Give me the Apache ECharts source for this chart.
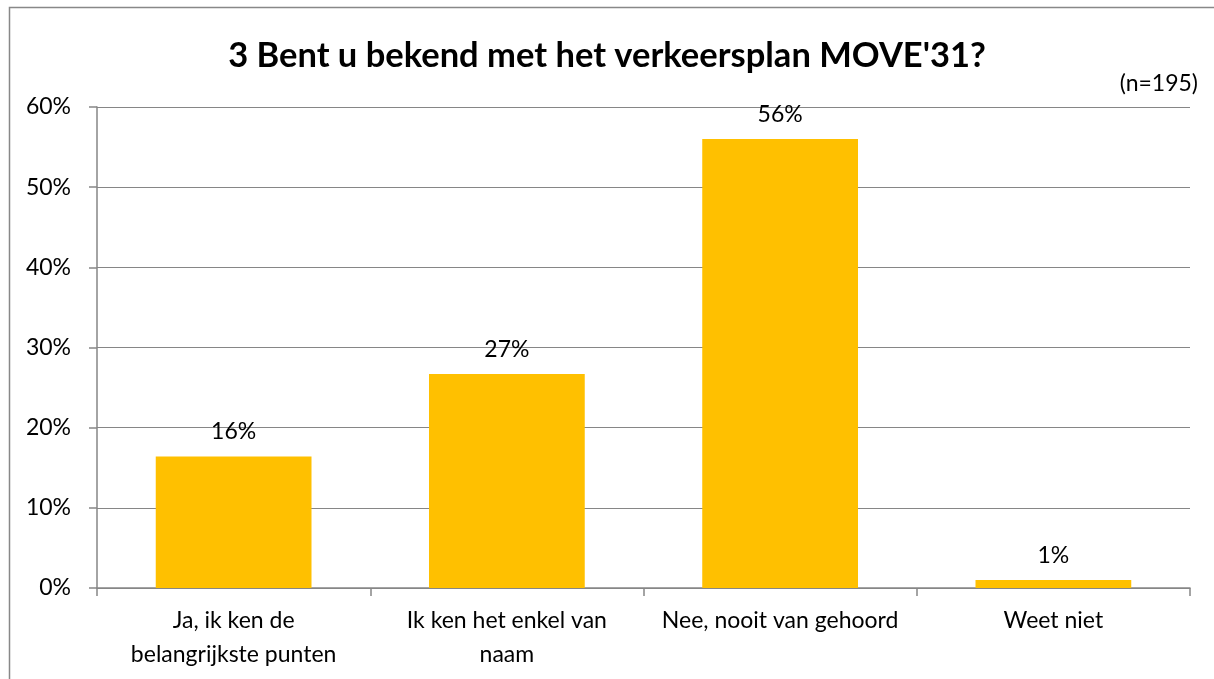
<!DOCTYPE html>
<html>
<head>
    <meta charset="utf-8">
    <title>MOVE'31</title>
    <script src="https://cdn.jsdelivr.net/npm/echarts@6/dist/echarts.min.js"></script>
    <style>
        html, body { margin: 0; padding: 0; background: #fff; }
    </style>
</head>
<body>
<div id="main" style="width: 1214px;height:679px;"></div>

<script>
    // gegevens
    var categories = ['Ja, ik ken de\nbelangrijkste punten', 'Ik ken het enkel van\nnaam', 'Nee, nooit van gehoord', 'Weet niet'];
    var values     = [16.4, 26.7, 56.0, 1.0];
    var yTicks     = [0, 10, 20, 30, 40, 50, 60];

    var fontName = 'Lato, "Open Sans", sans-serif';
    var axisGray = '#868686';

    var chart = echarts.init(document.getElementById('main'));
    var option = {
        backgroundColor: '#fff',
        animation: false,
        title: {
            text: "3 Bent u bekend met het verkeersplan MOVE'31?",
            left: 'center',
            top: 33,
            textStyle: {
                color: '#000',
                fontFamily: fontName,
                fontWeight: 'bold',
                fontSize: 34.5
            }
        },
        graphic: [
            {
                type: 'rect',
                shape: { x: 9.5, y: 7.5, width: 1220, height: 700 },
                style: { fill: null, stroke: '#888', lineWidth: 1.5 },
                silent: true
            },
            {
                type: 'text',
                right: 16,
                top: 72,
                style: { text: '(n=195)', fill: '#000', font: '23px ' + fontName }
            }
        ],
        grid: {
            left: 97,
            right: 24,
            top: 107,
            bottom: 91
        },
        xAxis: {
            type: 'category',
            data: categories,
            axisLine: { lineStyle: { color: axisGray, width: 1.5 } },
            axisTick: { show: true, length: 8, lineStyle: { color: axisGray, width: 1.5 } },
            axisLabel: {
                color: '#000',
                fontFamily: fontName,
                fontSize: 23,
                lineHeight: 34,
                margin: 16,
                interval: 0
            }
        },
        yAxis: {
            type: 'value',
            min: yTicks[0],
            max: yTicks[yTicks.length - 1],
            interval: 10,
            axisLine: { show: true, lineStyle: { color: axisGray, width: 1.5 } },
            axisTick: { show: true, length: 8, lineStyle: { color: axisGray, width: 1.5 } },
            splitLine: { lineStyle: { color: axisGray, width: 1.2 } },
            axisLabel: {
                color: '#000',
                fontFamily: fontName,
                fontSize: 23,
                margin: 26,
                formatter: '{value}%'
            }
        },
        series: [{
            type: 'bar',
            data: values,
            barWidth: '57%',
            itemStyle: { color: '#FFC000' },
            label: {
                show: true,
                position: 'top',
                distance: 13,
                color: '#000',
                fontFamily: fontName,
                fontSize: 23,
                formatter: function (p) { return Math.round(p.value) + '%'; }
            }
        }]
    };
    chart.setOption(option);
</script>
</body>
</html>
